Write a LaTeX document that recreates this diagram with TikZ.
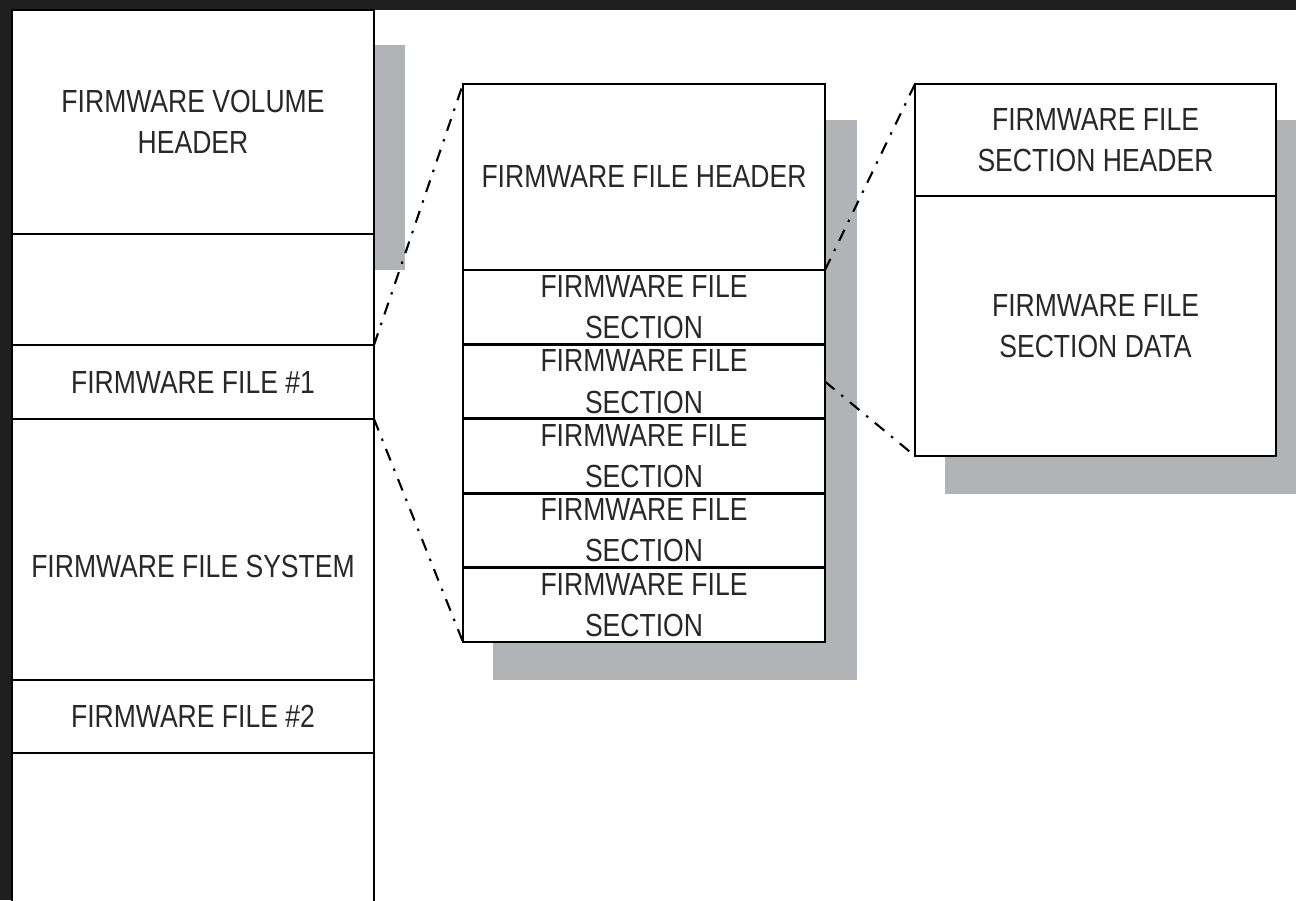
\documentclass[tikz,border=0pt]{standalone}
\usepackage{fontspec}
\setmainfont{Liberation Sans}[FakeStretch=0.83]
\usepackage{tikz}
\definecolor{shadowgray}{RGB}{178,179,183}
\definecolor{ink}{RGB}{40,40,40}

\begin{document}
\begin{tikzpicture}[
  box/.style = {draw, line width=0.75pt, fill=white, anchor=north west, inner sep=0pt, outer sep=0pt,
                align=center, text=ink, font=\fontsize{9.1}{11.7}\selectfont},
  link/.style = {line width=0.6pt, dash pattern=on 3.5pt off 2.5pt on 0.7pt off 2.5pt}
]
\useasboundingbox (0,0) rectangle (12.96,9);
\fill[black!88] (0,0) rectangle (12.96,9);
\fill[white] (0.12,0) rectangle (12.96,8.90);
% shadows
\fill[shadowgray] (3.74,6.30) rectangle (4.05,8.55);
\fill[shadowgray] (4.93,2.20) rectangle (8.57,7.80);
\fill[shadowgray] (9.45,4.06) rectangle (13.10,7.80);
% volume
\node[box, minimum width=3.62cm, minimum height=2.24cm] (fvh) at (0.12,8.90) {FIRMWARE VOLUME\\HEADER};
\node[box, minimum width=3.62cm, minimum height=1.11cm] (gap1) at (0.12,6.66) {};
\node[box, minimum width=3.62cm, minimum height=0.74cm] (fw1) at (0.12,5.55) {FIRMWARE FILE \#1};
\node[box, minimum width=3.62cm, minimum height=2.61cm, text height=16pt, text depth=0pt] (ffs) at (0.12,4.81) {FIRMWARE FILE SYSTEM};
\node[box, minimum width=3.62cm, minimum height=0.73cm] (fw2) at (0.12,2.20) {FIRMWARE FILE \#2};
\node[box, minimum width=3.62cm, minimum height=1.60cm] (gap2) at (0.12,1.47) {};
% file
\node[box, minimum width=3.62cm, minimum height=1.86cm] (ffh) at (4.63,8.16) {FIRMWARE FILE HEADER};
\foreach \i in {1,...,5}
  \node[box, minimum width=3.62cm, minimum height=0.744cm] (sec\i) at (4.63,{6.30-0.744*(\i-1)}) {FIRMWARE FILE\\SECTION};
% section
\node[box, minimum width=3.61cm, minimum height=1.12cm] (fsh) at (9.15,8.16) {FIRMWARE FILE\\SECTION HEADER};
\node[box, minimum width=3.61cm, minimum height=2.60cm] (fsd) at (9.15,7.04) {FIRMWARE FILE\\SECTION DATA};
% zoom lines
\draw[link] (fw1.north east) -- (ffh.north west);
\draw[link] (fw1.south east) -- (sec5.south west);
\draw[link] (sec1.north east) -- (fsh.north west);
\draw[link] (sec2.east) -- (fsd.south west);
\end{tikzpicture}
\end{document}
